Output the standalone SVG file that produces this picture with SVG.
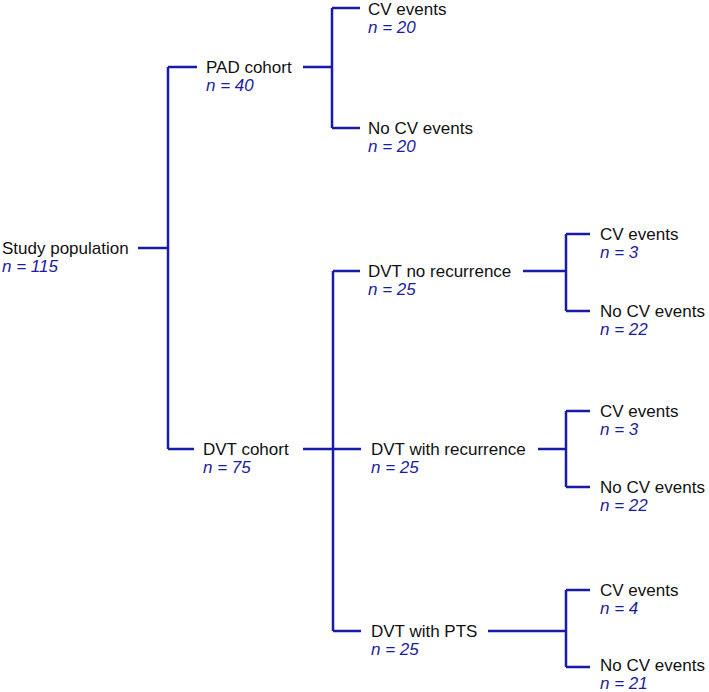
<svg xmlns="http://www.w3.org/2000/svg" width="709" height="692" viewBox="0 0 709 692">
<style>
.c{stroke:#1a1aa8;stroke-width:2.5;fill:none;stroke-linecap:butt}
.t{font-family:"Liberation Sans",Arial,sans-serif;font-size:17px;fill:#111}
.n{font-family:"Liberation Sans",Arial,sans-serif;font-size:17px;font-style:italic;fill:#1c1ca0}
</style>
<rect width="709" height="692" fill="#fff"/>
<g id="connectors">
<path class="c" d="M138 248H168M168 67V449M168 67H197M168 449H194"/>
<path class="c" d="M303 67H332M332 8V128M332 8H360M332 128H360"/>
<path class="c" d="M303 449H361M333 271V631M333 271H360M333 631H361"/>
<path class="c" d="M523 271H566M566 234V311M566 234H590M566 311H590"/>
<path class="c" d="M538 449H566M566 411V487M566 411H590M566 487H590"/>
<path class="c" d="M488 631H566M566 590V667M566 590H590M566 667H590"/>
</g>
<g id="study"><text class="t" x="2" y="254">Study population</text><text class="n" x="2" y="272">n = 115</text></g>
<g id="pad"><text class="t" x="206" y="73">PAD cohort</text><text class="n" x="206" y="91">n = 40</text></g>
<g id="pad-cv"><text class="t" x="368" y="15">CV events</text><text class="n" x="368" y="33">n = 20</text></g>
<g id="pad-nocv"><text class="t" x="368" y="134">No CV events</text><text class="n" x="368" y="152">n = 20</text></g>
<g id="dvt"><text class="t" x="203" y="455">DVT cohort</text><text class="n" x="203" y="473">n = 75</text></g>
<g id="dvt-norec"><text class="t" x="368" y="277">DVT no recurrence</text><text class="n" x="368" y="295">n = 25</text></g>
<g id="dvt-rec"><text class="t" x="371" y="455">DVT with recurrence</text><text class="n" x="371" y="473">n = 25</text></g>
<g id="dvt-pts"><text class="t" x="371" y="637">DVT with PTS</text><text class="n" x="371" y="655">n = 25</text></g>
<g id="norec-cv"><text class="t" x="600" y="240">CV events</text><text class="n" x="600" y="258">n = 3</text></g>
<g id="norec-nocv"><text class="t" x="600" y="317">No CV events</text><text class="n" x="600" y="335">n = 22</text></g>
<g id="rec-cv"><text class="t" x="600" y="417">CV events</text><text class="n" x="600" y="435">n = 3</text></g>
<g id="rec-nocv"><text class="t" x="600" y="493">No CV events</text><text class="n" x="600" y="511">n = 22</text></g>
<g id="pts-cv"><text class="t" x="600" y="596">CV events</text><text class="n" x="600" y="614">n = 4</text></g>
<g id="pts-nocv"><text class="t" x="600" y="671">No CV events</text><text class="n" x="600" y="689">n = 21</text></g>
</svg>
